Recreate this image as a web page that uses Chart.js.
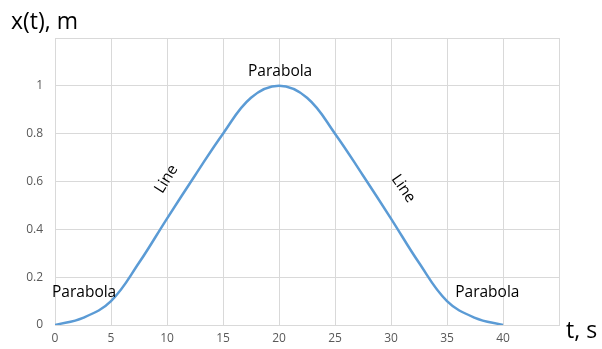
<!DOCTYPE html>
<html>
<head>
<meta charset="utf-8">
<script src="https://cdn.jsdelivr.net/npm/chart.js@4"></script>
<style>
  html, body { margin: 0; padding: 0; background: #fff; }
  #wrap { width: 602px; height: 349px; }
</style>
</head>
<body>
<div id="wrap"><canvas id="myChart" width="602" height="349"></canvas></div>
<script>
const times = [0, 2.5, 5, 7.5, 10, 12.5, 15, 17.5, 20, 22.5, 25, 27.5, 30, 32.5, 35, 37.5, 40];
const position = [0, 0.03, 0.1, 0.26, 0.445, 0.625, 0.8, 0.95, 1, 0.95, 0.8, 0.625, 0.445, 0.26, 0.1, 0.03, 0];

// annotation texts, placed in data units
const noteText = ['Parabola', 'Parabola', 'Parabola', 'Line', 'Line'];
const noteT = [2.6, 20.1, 38.6, 9.95, 31.1];
const noteX = [0.135, 1.06, 0.135, 0.61, 0.57];
const noteAngle = [0, 0, 0, -58, 55];

const textPlugin = {
  id: 'texts',
  afterDatasetsDraw(chart) {
    const ctx = chart.ctx;
    const xs = chart.scales.x, ys = chart.scales.y;
    ctx.save();
    ctx.fillStyle = '#000';
    ctx.textAlign = 'center';
    ctx.textBaseline = 'middle';
    ctx.font = '15.5px "Open Sans"';
    noteText.forEach((txt, i) => {
      ctx.save();
      ctx.translate(xs.getPixelForValue(noteT[i]), ys.getPixelForValue(noteX[i]));
      ctx.rotate(noteAngle[i] * Math.PI / 180);
      ctx.fillText(txt, 0, 0);
      ctx.restore();
    });
    ctx.font = '23px "Open Sans"';
    ctx.textAlign = 'left';
    ctx.fillText('x(t), m', 11, 22);
    ctx.fillText('t, s', 566, 331);
    ctx.restore();
  }
};

const config = {
  type: 'line',
  data: {
    datasets: [{
      data: times.map((t, i) => ({x: t, y: position[i]})),
      borderColor: '#5B9BD5',
      borderWidth: 2.5,
      pointRadius: 0,
      tension: 0.4,
      fill: false
    }]
  },
  options: {
    responsive: false,
    animation: false,
    layout: {padding: {left: 0, top: 38, right: 43, bottom: 0}},
    plugins: {legend: {display: false}, tooltip: {enabled: false}},
    scales: {
      x: {
        type: 'linear', min: 0, max: 45,
        ticks: {
          stepSize: 5, color: '#595959', padding: 6,
          font: {family: 'Open Sans', size: 12},
          callback: v => v > 40 ? '' : v
        },
        grid: {color: '#d9d9d9', lineWidth: 1, drawTicks: false},
        border: {color: '#d9d9d9'},
        afterFit: s => { s.height = 24; }
      },
      y: {
        min: 0, max: 1.2,
        ticks: {
          stepSize: 0.2, color: '#595959', padding: 12,
          font: {family: 'Open Sans', size: 12},
          callback: v => v > 1.1 ? '' : Math.round(v * 10) / 10
        },
        grid: {color: '#d9d9d9', lineWidth: 1, drawTicks: false},
        border: {color: '#d9d9d9'},
        afterFit: s => { s.width = 55; }
      }
    }
  },
  plugins: [textPlugin]
};

const myChart = new Chart(document.getElementById('myChart'), config);
</script>
</body>
</html>
